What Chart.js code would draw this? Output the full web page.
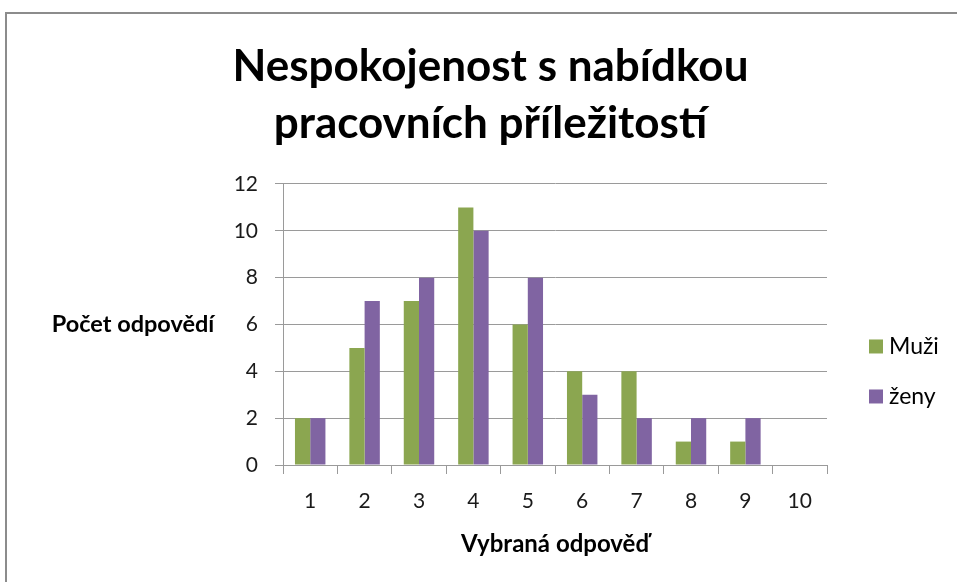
<!DOCTYPE html>
<html>
<head>
<meta charset="utf-8">
<script src="https://cdn.jsdelivr.net/npm/chart.js@4.4.1/dist/chart.umd.min.js"></script>
<style>
  html, body { margin: 0; padding: 0; background: #ffffff; overflow: hidden; }
  #frame { position: absolute; left: 5px; top: 12px; width: 1000px; height: 700px; border: 2px solid #8c8c8c; box-sizing: border-box; }
  #wrap { position: absolute; left: 0; top: 0; width: 957px; height: 582px; }
</style>
</head>
<body>
<div id="frame"></div>
<div id="wrap"><canvas id="c" width="957" height="582"></canvas></div>
<script>
const titleLines = ["Nespokojenost s nabídkou", "pracovních příležitostí"];
const categories = ["1", "2", "3", "4", "5", "6", "7", "8", "9", "10"];
const seriesNames = ["Muži", "ženy"];
const muzi = [2, 5, 7, 11, 6, 4, 4, 1, 1, 0];
const zeny = [2, 7, 8, 10, 8, 3, 2, 2, 2, 0];
const yTicks = [0, 2, 4, 6, 8, 10, 12];
const yTitle = "Počet odpovědí";
const xTitle = "Vybraná odpověď";

const FONT = "Lato, 'Open Sans', 'DejaVu Sans', sans-serif";
const GRID = "#9a9a9a";

const sidePlugin = {
  id: "sideTexts",
  afterDraw(chart) {
    const ctx = chart.ctx;
    const area = chart.chartArea;
    ctx.save();
    // horizontal y-axis title
    ctx.font = "bold 23.5px " + FONT;
    ctx.fillStyle = "#000000";
    ctx.textAlign = "center";
    ctx.textBaseline = "middle";
    ctx.fillText(yTitle, 133, (area.top + area.bottom) / 2);
    // legend on the right
    const items = chart.data.datasets;
    const boxX = area.right + 42;
    const firstY = (area.top + area.bottom) / 2 + 22;
    const step = 50;
    ctx.font = "23px " + FONT;
    ctx.textAlign = "left";
    items.forEach((ds, i) => {
      const cy = firstY + i * step;
      ctx.fillStyle = ds.backgroundColor;
      ctx.fillRect(boxX, cy - 7, 14, 14);
      ctx.fillStyle = "#000000";
      ctx.fillText(ds.label, boxX + 20, cy);
    });
    ctx.restore();
  }
};

new Chart(document.getElementById("c"), {
  type: "bar",
  data: {
    labels: categories,
    datasets: [
      { label: seriesNames[0], data: muzi, backgroundColor: "#8BA650", borderWidth: 0 },
      { label: seriesNames[1], data: zeny, backgroundColor: "#8064A2", borderWidth: 0 }
    ]
  },
  options: {
    responsive: false,
    animation: false,
    devicePixelRatio: 1,
    layout: { padding: { left: 24, right: 0, top: 0, bottom: 0 } },
    datasets: { bar: { categoryPercentage: 0.56, barPercentage: 1.0 } },
    plugins: {
      title: {
        display: true,
        text: titleLines,
        color: "#000000",
        font: { family: FONT, size: 44, weight: "bold", lineHeight: 1.295 },
        padding: { top: 38.5, bottom: 31.5 }
      },
      legend: { display: false },
      tooltip: { enabled: false }
    },
    scales: {
      x: {
        afterFit(scale) { scale.height = 117; },
        grid: { display: true, drawOnChartArea: false, drawTicks: true, tickLength: 9, color: GRID, offset: true },
        border: { display: true, color: GRID, width: 1 },
        ticks: { color: "#1a1a1a", font: { family: FONT, size: 21 }, padding: 15 },
        title: { display: true, text: xTitle, color: "#000000", font: { family: FONT, size: 24, weight: "bold" }, padding: { top: 10, bottom: 23 } }
      },
      y: {
        min: 0,
        max: 12,
        afterBuildTicks(scale) { scale.ticks = yTicks.map(v => ({ value: v })); },
        afterFit(scale) { scale.width = 259; },
        grid: { color: GRID, drawTicks: true, tickLength: 8 },
        border: { display: true, color: GRID, width: 1 },
        ticks: { color: "#1a1a1a", font: { family: FONT, size: 21 }, padding: 17 }
      },
      legendSpace: {
        type: "linear",
        position: "right",
        display: true,
        afterFit(scale) { scale.width = 130; },
        grid: { display: false, drawTicks: false },
        border: { display: false },
        ticks: { display: false }
      }
    }
  },
  plugins: [sidePlugin]
});
</script>
</body>
</html>
